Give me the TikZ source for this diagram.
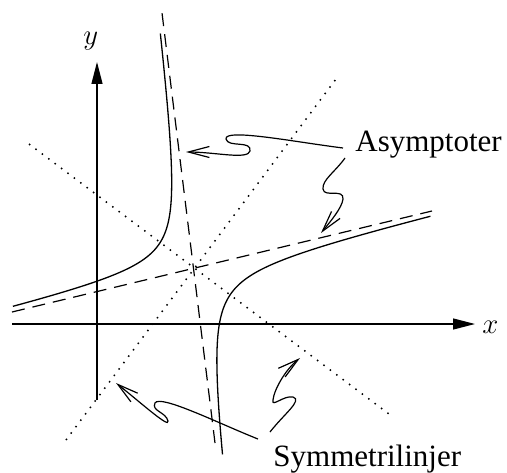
\documentclass[tikz,border=0pt]{standalone}
\usepackage{fontspec}
\setmainfont{Liberation Serif}
\usetikzlibrary{arrows.meta}

\begin{document}
\begin{tikzpicture}[
  x=0.5pt, y=0.5pt,
  axis/.style={line width=0.65pt, -{Triangle[length=11pt,width=5.5pt]}},
  asym/.style={line width=0.6pt, dash pattern=on 6.5pt off 4pt},
  symline/.style={line width=0.75pt, dash pattern=on 0.75pt off 3.25pt},
  branch/.style={line width=0.65pt},
  pointer/.style={line width=0.6pt, -{Straight Barb[length=10.5pt,width=5.5pt]}},
  lbl/.style={inner sep=0pt, anchor=base west, font=\fontsize{15.5}{18}\selectfont},
  axlbl/.style={inner sep=0pt, anchor=base west, font=\fontsize{14}{17}\selectfont}
]
\useasboundingbox (0,0) rectangle (507,472);

% axes
\coordinate (xstart) at (12,148);
\coordinate (xend) at (475,148);
\coordinate (ystart) at (97,72);
\coordinate (yend) at (97,410);
\draw[axis] (xstart) -- (xend);
\draw[axis] (ystart) -- (yend);
\node[axlbl] (xlab) at (482,139) {$x$};
\node[axlbl] (ylab) at (83,427) {$y$};

% asymptotes and symmetry lines
\coordinate (steeplo) at (215,29);
\coordinate (steephi) at (162,459);
\coordinate (flatlo) at (12,160);
\coordinate (flathi) at (432,261);
\draw[asym] (steeplo) -- (steephi);
\draw[asym] (flatlo) -- (flathi);
\coordinate (sym1a) at (29,328);
\coordinate (sym1b) at (393,55);
\coordinate (sym2a) at (66,32);
\coordinate (sym2b) at (339,397);
\draw[symline] (sym1a) -- (sym1b);
\draw[symline] (sym2a) -- (sym2b);

% the two branches
\draw[branch] plot[domain=-1.767:2.018, samples=120, variable=\t]
  ({193.5 + 31.62*(-0.1223*exp(\t) - 0.9723*exp(-\t))},
   {203.6 + 31.62*(0.9924*exp(\t) - 0.2338*exp(-\t))});
\draw[branch] plot[domain=-1.97:1.718, samples=120, variable=\t]
  ({193.5 + 33.9*(0.1223*exp(\t) + 0.9723*exp(-\t))},
   {203.6 + 33.9*(-0.9924*exp(\t) + 0.2338*exp(-\t))});

% labels
\node[lbl] (asymlab) at (355,321) {Asymptoter};
\node[lbl] (symlab) at (273,5.5) {Symmetrilinjer};

% squiggly pointers
\coordinate (p1s) at (343,324);
\coordinate (p1t) at (186,320);
\draw[pointer] (p1s) .. controls (295,330) and (224,344) .. (226,333)
  .. controls (228,324) and (252,332) .. (250,321)
  .. controls (248,312) and (215,320) .. (p1t);
\coordinate (p2s) at (345,314);
\coordinate (p2t) at (321,239);
\draw[pointer] (p2s) .. controls (335,300) and (322,292) .. (323,283)
  .. controls (324,274) and (344,284) .. (343,273)
  .. controls (342,264) and (330,250) .. (p2t);
\coordinate (p3s) at (258,33);
\coordinate (p3t) at (116,89);
\draw[pointer] (p3s) .. controls (220,48) and (160,78) .. (155,69)
  .. controls (151,61) and (166,60) .. (168,51)
  .. controls (170,43) and (140,70) .. (p3t);
\coordinate (p4s) at (270,40);
\coordinate (p4t) at (300,114);
\draw[pointer] (p4s) .. controls (284,58) and (303,72) .. (293,75)
  .. controls (284,77) and (271,64) .. (273,72)
  .. controls (274,82) and (285,102) .. (p4t);
\end{tikzpicture}
\end{document}
